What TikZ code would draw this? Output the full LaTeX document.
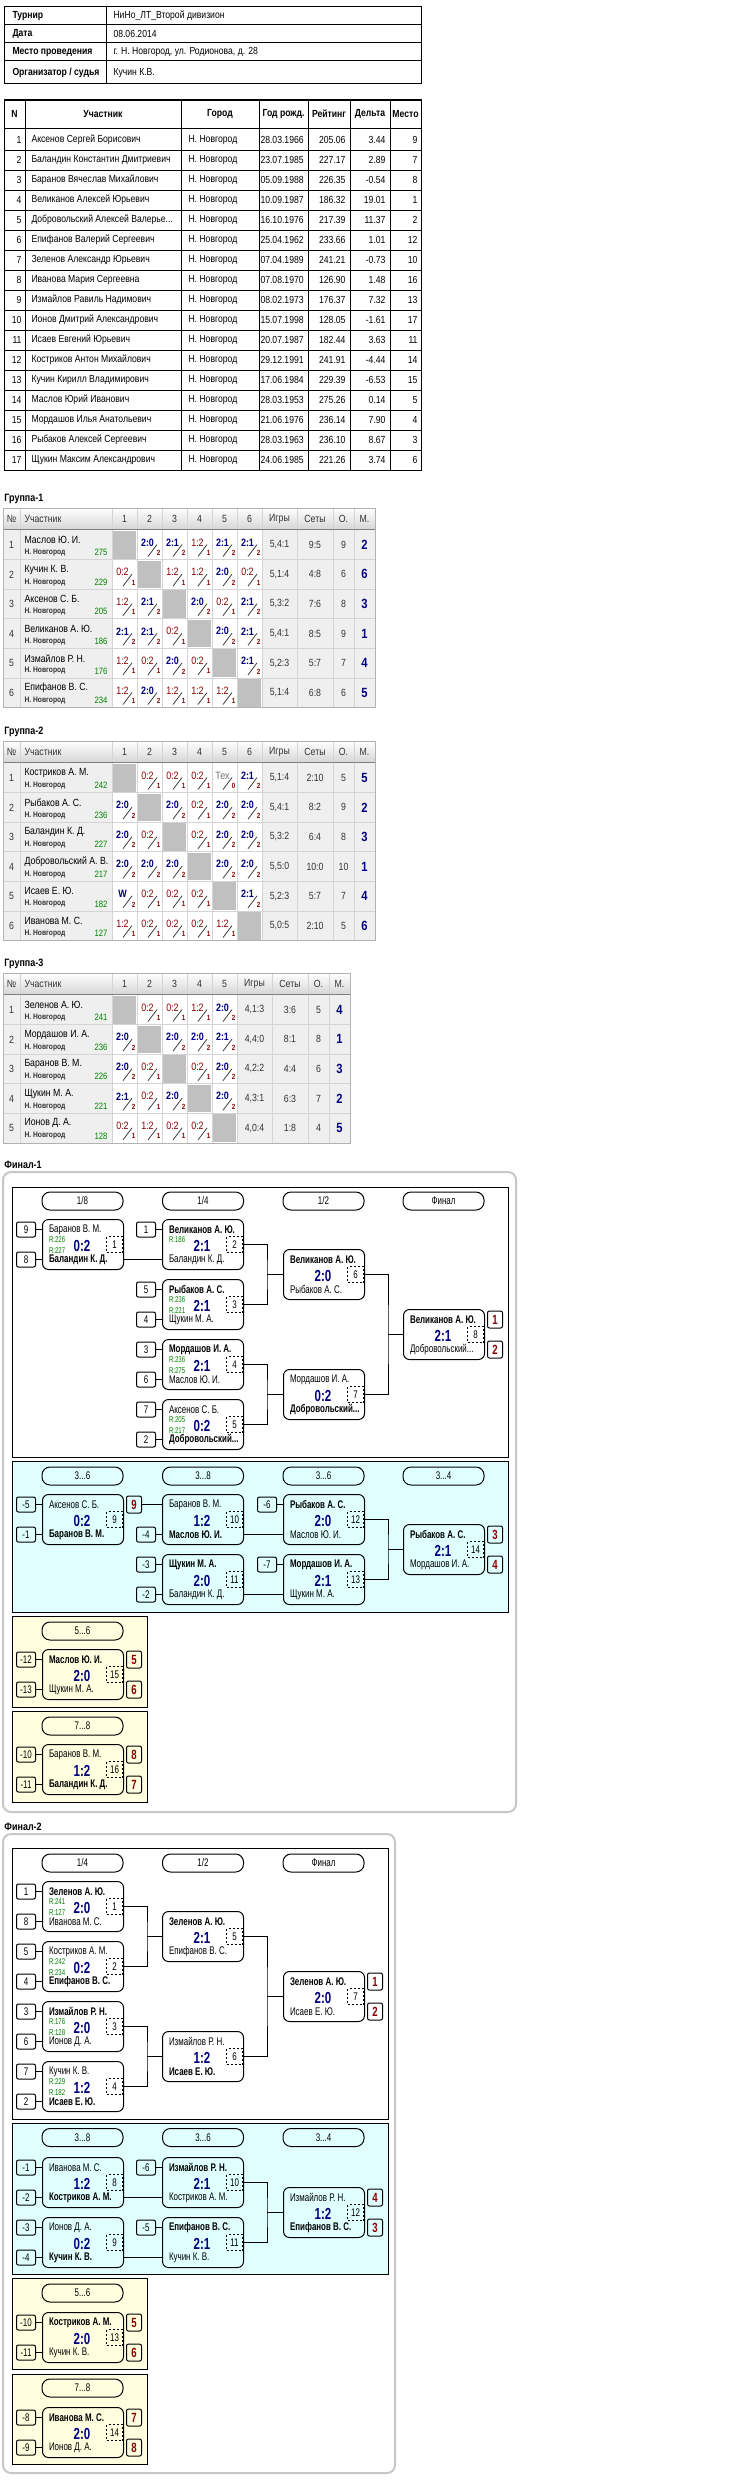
\documentclass[tikz,border=0pt]{standalone}
\usepackage{fontspec}
\setmainfont[FakeStretch=0.84]{Liberation Sans}
\newfontfamily\brk[FakeStretch=0.72]{Liberation Sans}
\usetikzlibrary{positioning,calc}

\definecolor{navyres}{HTML}{000080}
\definecolor{redres}{HTML}{8B0000}
\definecolor{ratgreen}{HTML}{008000}
\definecolor{cellbg}{HTML}{EFEFEF}
\definecolor{diaggray}{HTML}{C0C0C0}
\definecolor{gridgray}{HTML}{D4D4D4}
\definecolor{lcyan}{HTML}{E0FFFF}
\definecolor{lyellow}{HTML}{FFFFE0}

\tikzset{
  hlbl/.style={anchor=west, font=\bfseries\fontsize{7.7}{9}\selectfont},
  hval/.style={anchor=west, font=\fontsize{7.7}{9}\selectfont},
  thd/.style={font=\bfseries\fontsize{7.7}{9}\selectfont},
  tleft/.style={anchor=west, font=\fontsize{7.7}{9}\selectfont},
  tright/.style={anchor=east, font=\fontsize{7.7}{9}\selectfont},
  grplbl/.style={anchor=west, font=\bfseries\fontsize{8}{9}\selectfont},
  ghead/.style={font=\fontsize{7.8}{9}\selectfont, text=black!80},
  gname/.style={anchor=west, font=\fontsize{7.8}{9}\selectfont},
  gcity/.style={anchor=west, font=\bfseries\fontsize{6}{7}\selectfont, text=black!80},
  grat/.style={anchor=east, font=\fontsize{6.9}{8}\selectfont, text=ratgreen},
  gwin/.style={font=\bfseries\fontsize{8}{9}\selectfont, text=navyres},
  gloss/.style={font=\fontsize{8}{9}\selectfont, text=redres},
  gtech/.style={font=\fontsize{8}{9}\selectfont, text=black!55},
  gsmall/.style={font=\bfseries\fontsize{5.6}{6}\selectfont, text=redres},
  gval/.style={font=\fontsize{7.8}{9}\selectfont, text=black!80},
  gplace/.style={font=\bfseries\fontsize{10}{11}\selectfont, text=navyres},
  bframe/.style={draw=black!22, line width=1.5pt, rounded corners=6pt},
  matchbox/.style={draw, rounded corners=4.5pt, minimum width=60.75pt, minimum height=37.5pt, anchor=north west},
  pill/.style={draw, rounded corners=6pt, minimum width=60.75pt, minimum height=13.5pt, font=\brk\fontsize{8.3}{9}\selectfont},
  seedbox/.style={draw, rounded corners=1.5pt, minimum width=14.25pt, minimum height=11.25pt, font=\brk\fontsize{8.3}{9}\selectfont},
  placebox/.style={draw, rounded corners=1.5pt, minimum width=11.25pt, minimum height=12.75pt, font=\brk\bfseries\fontsize{10}{10}\selectfont, text=redres},
  numbox/.style={draw, dash pattern=on 1.5pt off 1.5pt, minimum size=12pt, anchor=east, font=\brk\fontsize{8.3}{9}\selectfont},
  pname/.style={anchor=west, font=\brk\fontsize{8.3}{9}\selectfont},
  prat/.style={anchor=west, font=\brk\fontsize{6.3}{7}\selectfont, text=ratgreen},
  pscore/.style={font=\brk\bfseries\fontsize{12}{12}\selectfont, text=navyres}
}

\newcommand{\dts}{...}

% group table cells
\newcommand{\resW}[1]{\node[gwin] (\gp w\i-\j) at (\cx+10.5,\cy+12.5) {#1};
  \draw[black!75, line width=0.6pt] (\cx+11,\cy+26.5) -- (\cx+20,\cy+14.5);
  \node[gsmall] (\gp v\i-\j) at (\cx+21.5,\cy+23) {2};}
\newcommand{\resL}[1]{\node[gloss] (\gp w\i-\j) at (\cx+10.5,\cy+12.5) {#1};
  \draw[black!75, line width=0.6pt] (\cx+11,\cy+26.5) -- (\cx+20,\cy+14.5);
  \node[gsmall] (\gp v\i-\j) at (\cx+21.5,\cy+23) {1};}
\newcommand{\resT}{\node[gtech] (\gp w\i-\j) at (\cx+10.5,\cy+12.5) {Тех};
  \draw[black!75, line width=0.6pt] (\cx+11,\cy+26.5) -- (\cx+20,\cy+14.5);
  \node[gsmall] (\gp v\i-\j) at (\cx+21.5,\cy+23) {0};}
\newcommand{\resX}{\fill[diaggray] (\cx+1,\cy+1) rectangle (\cx+24,\cy+28.6);}

\newcommand{\gtable}[4]{%
  \def\gp{#1}%
  \pgfmathsetmacro{\htop}{#2}%
  \pgfmathsetmacro{\gend}{112+25*#3}%
  \pgfmathsetmacro{\btop}{#2+22}%
  \pgfmathsetmacro{\bbot}{#2+22+29.6*#3}%
  \shade[top color=white, bottom color=black!16] (3,\htop) rectangle (\gend+113,\htop+21);
  \fill[cellbg] (3,\btop) rectangle (\gend+113,\bbot);
  \fill[white] (112,\btop) rectangle (\gend,\bbot);
  \foreach \xx in {20,112,\gend+35,\gend+71,\gend+92} {\draw[gridgray] (\xx,\htop) -- (\xx,\bbot);}
  \foreach \j in {1,...,#3} {\draw[gridgray] (112+25*\j,\htop) -- (112+25*\j,\bbot);}
  \foreach \i in {1,...,#3} {\draw[gridgray] (3,\btop+29.6*\i) -- (\gend+113,\btop+29.6*\i);}
  \draw[black!50] (3,\htop+21) -- (\gend+113,\htop+21);
  \draw[black!30] (3,\htop) rectangle (\gend+113,\bbot);
  \node[ghead] (#1hn) at (11.5,\htop+10.5) {№};
  \node[ghead, anchor=west] (#1hp) at (24,\htop+10.5) {Участник};
  \foreach \j in {1,...,#3} {\node[ghead] (#1h\j) at (99.5+25*\j,\htop+10.5) {\j};}
  \node[ghead] (#1hg) at (\gend+17.5,\htop+10.5) {Игры};
  \node[ghead] (#1hs) at (\gend+53,\htop+10.5) {Сеты};
  \node[ghead] (#1ho) at (\gend+81.5,\htop+10.5) {О.};
  \node[ghead] (#1hm) at (\gend+102.5,\htop+10.5) {М.};
  \foreach \gnm/\grt/\gcl/\ggm/\gst/\gpt/\gpl [count=\i] in {#4} {%
    \pgfmathsetmacro{\cy}{\btop+29.6*(\i-1)}
    \node[ghead] (#1n\i) at (11.5,\cy+14.8) {\i};
    \node[gname] (#1p\i) at (24,\cy+10) {\gnm};
    \node[gcity] (#1c\i) at (24,\cy+22.5) {Н. Новгород};
    \node[grat] (#1r\i) at (108,\cy+22.5) {\grt};
    \node[gval] (#1g\i) at (\gend+17.5,\cy+14.8) {\ggm};
    \node[gval] (#1s\i) at (\gend+53,\cy+14.8) {\gst};
    \node[gval] (#1o\i) at (\gend+81.5,\cy+14.8) {\gpt};
    \node[gplace] (#1m\i) at (\gend+102.5,\cy+14.8) {\gpl};
    \foreach \cc [count=\j] in \gcl {\pgfmathsetmacro{\cx}{87+25*\j}\cc}
  }%
}

% bracket parts
\newcommand{\matchbx}[9]{%
  \node[matchbox] (#1) at (#2,#3) {};
  \coordinate (#1-t) at (#2,#3+10.5);
  \coordinate (#1-b) at (#2,#3+40.5);
  \coordinate (#1-rt) at (#2+81,#3+10.5);
  \coordinate (#1-rb) at (#2+81,#3+40.5);
  \node[pname] (#1-p1) at (#2+6.5,#3+10.5) {#4};
  \node[pname] (#1-p2) at (#2+6.5,#3+40.5) {#5};
  \node[prat] (#1-r1) at (#2+6.5,#3+20.5) {#8};
  \node[prat] (#1-r2) at (#2+6.5,#3+31.5) {#9};
  \node[pscore] (#1-s) at (#2+40,#3+27) {#6};
  \node[numbox] (#1-n) at (#2+81,#3+25.5) {#7};
}
\newcommand{\seedbx}[3]{\node[seedbox, left=4.5pt of #2] (#1) {#3}; \draw (#1) -- (#2);}
\newcommand{\placebx}[3]{\node[placebox, right=2.25pt of #2] (#1) {#3};}
\newcommand{\jointbx}[4]{\coordinate (#4) at ($(#1.east)!0.5!(#2.east)+(23,0)$);
  \draw (#1.east) -| (#4) |- (#2.east); \draw (#4) -- (#3.west);}

\begin{document}
\begin{tikzpicture}[x=0.75pt, y=-0.75pt, line width=0.75pt, every node/.append style={inner sep=0pt}]
\useasboundingbox (0,0) rectangle (738,2480);
\fill[white] (0,0) rectangle (738,2480);

% tournament head
\draw (4,7) rectangle (421,84);
\foreach \y in {25,43,61} \draw (4,\y) -- (421,\y);
\draw (106,7) -- (106,84);
\node[hlbl] (h1) at (12,16) {Турнир};
\node[hval] (v1) at (113,16) {НиНо\_ЛТ\_Второй дивизион};
\node[hlbl] (h2) at (12,34) {Дата};
\node[hval] (v2) at (113,34) {08.06.2014};
\node[hlbl] (h3) at (12,52) {Место проведения};
\node[hval] (v3) at (113,52) {г. Н. Новгород, ул. Родионова, д. 28};
\node[hlbl] (h4) at (12,73) {Организатор / судья};
\node[hval] (v4) at (113,73) {Кучин К.В.};

% participants
\draw (4,100) rectangle (421,470);
\draw (4,128) -- (421,128);
\foreach \y in {150,170,...,450} \draw (4,\y) -- (421,\y);
\foreach \x in {25,181,259,308,350,390} \draw (\x,100) -- (\x,470);
\node[thd] (t1) at (14.5,114) {N};
\node[thd] (t2) at (103,114) {Участник};
\node[thd] (t3) at (220,114) {Город};
\node[thd] (t4) at (283.5,114) {Год рожд.};
\node[thd] (t5) at (329,114) {Рейтинг};
\node[thd] (t6) at (370,114) {Дельта};
\node[thd] (t7) at (405.5,114) {Место};
\foreach \nm/\dt/\rt/\dl/\pl [count=\i] in {
  Аксенов Сергей Борисович/28.03.1966/205.06/3.44/9,
  Баландин Константин Дмитриевич/23.07.1985/227.17/2.89/7,
  Баранов Вячеслав Михайлович/05.09.1988/226.35/-0.54/8,
  Великанов Алексей Юрьевич/10.09.1987/186.32/19.01/1,
  Добровольский Алексей Валерье\dts/16.10.1976/217.39/11.37/2,
  Епифанов Валерий Сергеевич/25.04.1962/233.66/1.01/12,
  Зеленов Александр Юрьевич/07.04.1989/241.21/-0.73/10,
  Иванова Мария Сергеевна/07.08.1970/126.90/1.48/16,
  Измайлов Равиль Надимович/08.02.1973/176.37/7.32/13,
  Ионов Дмитрий Александрович/15.07.1998/128.05/-1.61/17,
  Исаев Евгений Юрьевич/20.07.1987/182.44/3.63/11,
  Костриков Антон Михайлович/29.12.1991/241.91/-4.44/14,
  Кучин Кирилл Владимирович/17.06.1984/229.39/-6.53/15,
  Маслов Юрий Иванович/28.03.1953/275.26/0.14/5,
  Мордашов Илья Анатольевич/21.06.1976/236.14/7.90/4,
  Рыбаков Алексей Сергеевич/28.03.1963/236.10/8.67/3,
  Щукин Максим Александрович/24.06.1985/221.26/3.74/6}
{
  \pgfmathsetmacro{\yy}{140+20*(\i-1)}
  \node[tright] (pn\i) at (22,\yy) {\i};
  \node[tleft] (pf\i) at (31,\yy) {\nm};
  \node[tleft] (pc\i) at (188,\yy) {Н. Новгород};
  \node[tleft] (pd\i) at (260,\yy) {\dt};
  \node[tright] (pr\i) at (346,\yy) {\rt};
  \node[tright] (pe\i) at (386,\yy) {\dl};
  \node[tright] (pp\i) at (418,\yy) {\pl};
}

% groups
\node[grplbl] (g1lbl) at (4,499) {Группа-1};
\gtable{ga}{508}{6}{
  Маслов Ю. И./275/{\resX,\resW{2:0},\resW{2:1},\resL{1:2},\resW{2:1},\resW{2:1}}/{5,4:1}/9:5/9/2,
  Кучин К. В./229/{\resL{0:2},\resX,\resL{1:2},\resL{1:2},\resW{2:0},\resL{0:2}}/{5,1:4}/4:8/6/6,
  Аксенов С. Б./205/{\resL{1:2},\resW{2:1},\resX,\resW{2:0},\resL{0:2},\resW{2:1}}/{5,3:2}/7:6/8/3,
  Великанов А. Ю./186/{\resW{2:1},\resW{2:1},\resL{0:2},\resX,\resW{2:0},\resW{2:1}}/{5,4:1}/8:5/9/1,
  Измайлов Р. Н./176/{\resL{1:2},\resL{0:2},\resW{2:0},\resL{0:2},\resX,\resW{2:1}}/{5,2:3}/5:7/7/4,
  Епифанов В. С./234/{\resL{1:2},\resW{2:0},\resL{1:2},\resL{1:2},\resL{1:2},\resX}/{5,1:4}/6:8/6/5}

\node[grplbl] (g2lbl) at (4,732) {Группа-2};
\gtable{gb}{741}{6}{
  Костриков А. М./242/{\resX,\resL{0:2},\resL{0:2},\resL{0:2},\resT,\resW{2:1}}/{5,1:4}/2:10/5/5,
  Рыбаков А. С./236/{\resW{2:0},\resX,\resW{2:0},\resL{0:2},\resW{2:0},\resW{2:0}}/{5,4:1}/8:2/9/2,
  Баландин К. Д./227/{\resW{2:0},\resL{0:2},\resX,\resL{0:2},\resW{2:0},\resW{2:0}}/{5,3:2}/6:4/8/3,
  Добровольский А. В./217/{\resW{2:0},\resW{2:0},\resW{2:0},\resX,\resW{2:0},\resW{2:0}}/{5,5:0}/10:0/10/1,
  Исаев Е. Ю./182/{\resW{W},\resL{0:2},\resL{0:2},\resL{0:2},\resX,\resW{2:1}}/{5,2:3}/5:7/7/4,
  Иванова М. С./127/{\resL{1:2},\resL{0:2},\resL{0:2},\resL{0:2},\resL{1:2},\resX}/{5,0:5}/2:10/5/6}

\node[grplbl] (g3lbl) at (4,964) {Группа-3};
\gtable{gc}{973}{5}{
  Зеленов А. Ю./241/{\resX,\resL{0:2},\resL{0:2},\resL{1:2},\resW{2:0}}/{4,1:3}/3:6/5/4,
  Мордашов И. А./236/{\resW{2:0},\resX,\resW{2:0},\resW{2:0},\resW{2:1}}/{4,4:0}/8:1/8/1,
  Баранов В. М./226/{\resW{2:0},\resL{0:2},\resX,\resL{0:2},\resW{2:0}}/{4,2:2}/4:4/6/3,
  Щукин М. А./221/{\resW{2:1},\resL{0:2},\resW{2:0},\resX,\resW{2:0}}/{4,3:1}/6:3/7/2,
  Ионов Д. А./128/{\resL{0:2},\resL{1:2},\resL{0:2},\resL{0:2},\resX}/{4,0:4}/1:8/4/5}

% Final-1
\node[grplbl] (f1lbl) at (4,1165) {Финал-1};
\draw[bframe] (3,1172) rectangle (516,1812);
\draw[fill=white] (12,1187) rectangle (508,1457);
\draw[fill=lcyan] (12,1461) rectangle (508,1612);
\draw[fill=lyellow] (12,1616) rectangle (147,1707);
\draw[fill=lyellow] (12,1711) rectangle (147,1802);
\node[pill] (ar1) at (82.5,1201) {1/8};
\node[pill] (ar2) at (203,1201) {1/4};
\node[pill] (ar3) at (323.5,1201) {1/2};
\node[pill] (ar4) at (443.5,1201) {Финал};
\node[pill] (ar5) at (82.5,1476) {3...6};
\node[pill] (ar6) at (203,1476) {3...8};
\node[pill] (ar7) at (323.5,1476) {3...6};
\node[pill] (ar8) at (443.5,1476) {3...4};
\node[pill] (ar9) at (82.5,1631) {5...6};
\node[pill] (ar10) at (82.5,1726) {7...8};

\matchbx{a1}{42}{1219}{Баранов В. М.}{\textbf{Баландин К. Д.}}{0:2}{1}{R:226}{R:227}
\matchbx{a2}{162}{1219}{\textbf{Великанов А. Ю.}}{Баландин К. Д.}{2:1}{2}{R:186}{}
\matchbx{a3}{162}{1279}{\textbf{Рыбаков А. С.}}{Щукин М. А.}{2:1}{3}{R:236}{R:221}
\matchbx{a4}{162}{1339}{\textbf{Мордашов И. А.}}{Маслов Ю. И.}{2:1}{4}{R:236}{R:275}
\matchbx{a5}{162}{1399}{Аксенов С. Б.}{\textbf{Добровольский\dts}}{0:2}{5}{R:205}{R:217}
\matchbx{a6}{283}{1249}{\textbf{Великанов А. Ю.}}{Рыбаков А. С.}{2:0}{6}{}{}
\matchbx{a7}{283}{1369}{Мордашов И. А.}{\textbf{Добровольский\dts}}{0:2}{7}{}{}
\matchbx{a8}{403}{1309}{\textbf{Великанов А. Ю.}}{Добровольский\dts}{2:1}{8}{}{}
\seedbx{a1s1}{a1-t}{9} \seedbx{a1s2}{a1-b}{8}
\seedbx{a2s1}{a2-t}{1}
\seedbx{a3s1}{a3-t}{5} \seedbx{a3s2}{a3-b}{4}
\seedbx{a4s1}{a4-t}{3} \seedbx{a4s2}{a4-b}{6}
\seedbx{a5s1}{a5-t}{7} \seedbx{a5s2}{a5-b}{2}
\draw (a1-rb) -- (a2-b);
\jointbx{a2}{a3}{a6}{aj1}
\jointbx{a4}{a5}{a7}{aj2}
\jointbx{a6}{a7}{a8}{aj3}
\placebx{a8w}{a8-rt}{1} \placebx{a8l}{a8-rb}{2}

\matchbx{a9}{42}{1494}{Аксенов С. Б.}{\textbf{Баранов В. М.}}{0:2}{9}{}{}
\matchbx{a10}{162}{1494}{Баранов В. М.}{\textbf{Маслов Ю. И.}}{1:2}{10}{}{}
\matchbx{a11}{162}{1554}{\textbf{Щукин М. А.}}{Баландин К. Д.}{2:0}{11}{}{}
\matchbx{a12}{283}{1494}{\textbf{Рыбаков А. С.}}{Маслов Ю. И.}{2:0}{12}{}{}
\matchbx{a13}{283}{1554}{\textbf{Мордашов И. А.}}{Щукин М. А.}{2:1}{13}{}{}
\matchbx{a14}{403}{1524}{\textbf{Рыбаков А. С.}}{Мордашов И. А.}{2:1}{14}{}{}
\seedbx{a9s1}{a9-t}{-5} \seedbx{a9s2}{a9-b}{-1}
\seedbx{a10s2}{a10-b}{-4}
\seedbx{a11s1}{a11-t}{-3} \seedbx{a11s2}{a11-b}{-2}
\seedbx{a12s1}{a12-t}{-6}
\seedbx{a13s1}{a13-t}{-7}
\placebx{a9w}{a9-rt}{9}
\draw (a9w) -- (a10-t);
\draw (a10-rb) -- (a12-b);
\draw (a11-rb) -- (a13-b);
\jointbx{a12}{a13}{a14}{aj4}
\placebx{a14w}{a14-rt}{3} \placebx{a14l}{a14-rb}{4}

\matchbx{a15}{42}{1649}{\textbf{Маслов Ю. И.}}{Щукин М. А.}{2:0}{15}{}{}
\seedbx{a15s1}{a15-t}{-12} \seedbx{a15s2}{a15-b}{-13}
\placebx{a15w}{a15-rt}{5} \placebx{a15l}{a15-rb}{6}
\matchbx{a16}{42}{1744}{Баранов В. М.}{\textbf{Баландин К. Д.}}{1:2}{16}{}{}
\seedbx{a16s1}{a16-t}{-10} \seedbx{a16s2}{a16-b}{-11}
\placebx{a16w}{a16-rt}{8} \placebx{a16l}{a16-rb}{7}

% Final-2
\node[grplbl] (f2lbl) at (4,1827) {Финал-2};
\draw[bframe] (3,1834) rectangle (395,2473);
\draw[fill=white] (12,1848) rectangle (388,2119);
\draw[fill=lcyan] (12,2123) rectangle (388,2274);
\draw[fill=lyellow] (12,2278) rectangle (147,2369);
\draw[fill=lyellow] (12,2374) rectangle (147,2464);
\node[pill] (br1) at (82.5,1863) {1/4};
\node[pill] (br2) at (203,1863) {1/2};
\node[pill] (br3) at (323.5,1863) {Финал};
\node[pill] (br4) at (82.5,2137.5) {3...8};
\node[pill] (br5) at (203,2137.5) {3...6};
\node[pill] (br6) at (323.5,2137.5) {3...4};
\node[pill] (br7) at (82.5,2293) {5...6};
\node[pill] (br8) at (82.5,2388) {7...8};

\matchbx{b1}{42}{1881}{\textbf{Зеленов А. Ю.}}{Иванова М. С.}{2:0}{1}{R:241}{R:127}
\matchbx{b2}{42}{1941}{Костриков А. М.}{\textbf{Епифанов В. С.}}{0:2}{2}{R:242}{R:234}
\matchbx{b3}{42}{2001}{\textbf{Измайлов Р. Н.}}{Ионов Д. А.}{2:0}{3}{R:176}{R:128}
\matchbx{b4}{42}{2061}{Кучин К. В.}{\textbf{Исаев Е. Ю.}}{1:2}{4}{R:229}{R:182}
\matchbx{b5}{162}{1911}{\textbf{Зеленов А. Ю.}}{Епифанов В. С.}{2:1}{5}{}{}
\matchbx{b6}{162}{2031}{Измайлов Р. Н.}{\textbf{Исаев Е. Ю.}}{1:2}{6}{}{}
\matchbx{b7}{283}{1971}{\textbf{Зеленов А. Ю.}}{Исаев Е. Ю.}{2:0}{7}{}{}
\seedbx{b1s1}{b1-t}{1} \seedbx{b1s2}{b1-b}{8}
\seedbx{b2s1}{b2-t}{5} \seedbx{b2s2}{b2-b}{4}
\seedbx{b3s1}{b3-t}{3} \seedbx{b3s2}{b3-b}{6}
\seedbx{b4s1}{b4-t}{7} \seedbx{b4s2}{b4-b}{2}
\jointbx{b1}{b2}{b5}{bj1}
\jointbx{b3}{b4}{b6}{bj2}
\jointbx{b5}{b6}{b7}{bj3}
\placebx{b7w}{b7-rt}{1} \placebx{b7l}{b7-rb}{2}

\matchbx{b8}{42}{2157}{Иванова М. С.}{\textbf{Костриков А. М.}}{1:2}{8}{}{}
\matchbx{b9}{42}{2217}{Ионов Д. А.}{\textbf{Кучин К. В.}}{0:2}{9}{}{}
\matchbx{b10}{162}{2157}{\textbf{Измайлов Р. Н.}}{Костриков А. М.}{2:1}{10}{}{}
\matchbx{b11}{162}{2217}{\textbf{Епифанов В. С.}}{Кучин К. В.}{2:1}{11}{}{}
\matchbx{b12}{283}{2187}{Измайлов Р. Н.}{\textbf{Епифанов В. С.}}{1:2}{12}{}{}
\seedbx{b8s1}{b8-t}{-1} \seedbx{b8s2}{b8-b}{-2}
\seedbx{b9s1}{b9-t}{-3} \seedbx{b9s2}{b9-b}{-4}
\seedbx{b10s1}{b10-t}{-6}
\seedbx{b11s1}{b11-t}{-5}
\draw (b8-rb) -- (b10-b);
\draw (b9-rb) -- (b11-b);
\jointbx{b10}{b11}{b12}{bj4}
\placebx{b12w}{b12-rt}{4} \placebx{b12l}{b12-rb}{3}

\matchbx{b13}{42}{2312}{\textbf{Костриков А. М.}}{Кучин К. В.}{2:0}{13}{}{}
\seedbx{b13s1}{b13-t}{-10} \seedbx{b13s2}{b13-b}{-11}
\placebx{b13w}{b13-rt}{5} \placebx{b13l}{b13-rb}{6}
\matchbx{b14}{42}{2407}{\textbf{Иванова М. С.}}{Ионов Д. А.}{2:0}{14}{}{}
\seedbx{b14s1}{b14-t}{-8} \seedbx{b14s2}{b14-b}{-9}
\placebx{b14w}{b14-rt}{7} \placebx{b14l}{b14-rb}{8}
\end{tikzpicture}
\end{document}
